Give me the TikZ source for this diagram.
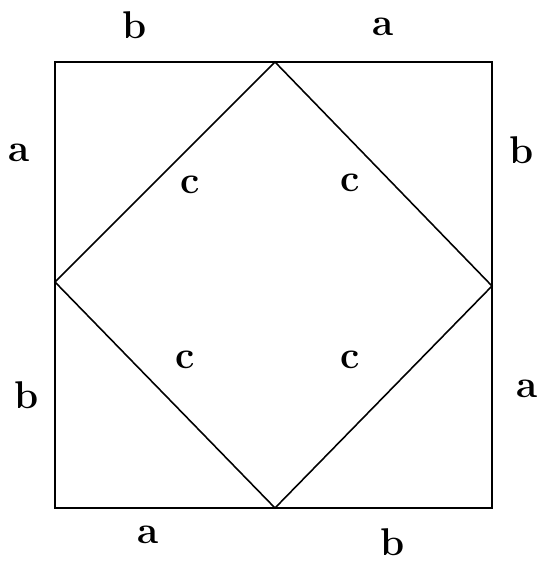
\documentclass[tikz,border=0pt]{standalone}
\usepackage{tikz}
\usetikzlibrary{positioning}

\begin{document}
\begin{tikzpicture}[
  x=0.02cm,y=-0.02cm,
  side/.style={font=\fontsize{22}{26}\selectfont\bfseries,inner sep=0pt},
  edge/.style={draw=black,line width=0.9pt},
]
\useasboundingbox (0,0) rectangle (539,564);

% outer square corners
\coordinate (tl) at (55,62);
\coordinate (tr) at (492,62);
\coordinate (br) at (492,508);
\coordinate (bl) at (55,508);

% inner square corners
\coordinate (top) at (275,62);
\coordinate (rgt) at (492,286);
\coordinate (bot) at (275,508);
\coordinate (lft) at (55,282);

\draw[edge] (tl) -- (tr) -- (br) -- (bl) -- cycle;
\draw[edge] (top) -- (rgt) -- (bot) -- (lft) -- cycle;

% side labels
\node[side] (tb) at (135,25) {b};
\node[side] (ta) at (383,27) {a};
\node[side] (la) at (19,153) {a};
\node[side] (lb) at (27,395) {b};
\node[side] (rb) at (522,150) {b};
\node[side] (ra) at (527,389) {a};
\node[side] (ba) at (148,535) {a};
\node[side] (bb) at (393,542) {b};

% hypotenuse labels
\node[side] (c1) at (190,185) {c};
\node[side] (c2) at (350,183) {c};
\node[side] (c3) at (185,360) {c};
\node[side] (c4) at (350,360) {c};
\end{tikzpicture}
\end{document}
